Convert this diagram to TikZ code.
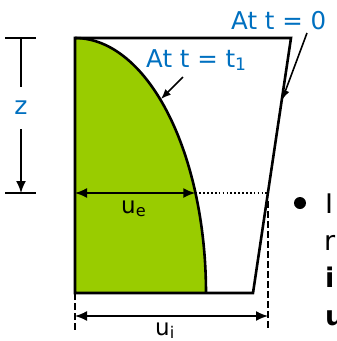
\documentclass[tikz,border=0pt]{standalone}
\usepackage{fontspec}
\setmainfont{DejaVu Sans}
\usetikzlibrary{arrows.meta}
\definecolor{lblue}{RGB}{0,112,192}
\definecolor{lgreen}{RGB}{153,204,0}
\begin{document}
\begin{tikzpicture}[x=1pt,y=-1pt,
  outline/.style={line width=2.6pt,line join=miter},
  dimline/.style={line width=1.7pt},
  bigtip/.style={-{Latex[length=12pt,width=10pt]}},
  twotip/.style={{Latex[length=12pt,width=10pt]}-{Latex[length=12pt,width=10pt]}},
  labtip/.style={line width=1.6pt,-{Latex[length=10pt,width=8pt]}},
  dashline/.style={line width=1.7pt,dash pattern=on 6.5pt off 3.5pt},
  dotline/.style={line width=1.7pt,dash pattern=on 1.7pt off 2.2pt},
  bluelab/.style={text=lblue,font=\fontsize{24.5}{24.5}\selectfont,inner sep=0pt,anchor=base west},
  blacklab/.style={text=black,font=\fontsize{23}{23}\selectfont,inner sep=0pt,anchor=base west},
  bullettext/.style={font=\fontsize{27}{27}\selectfont,inner sep=0pt,anchor=base west}]
\useasboundingbox (0,0) rectangle (337,341);
\clip (0,0) rectangle (337,341);
% corners
\coordinate (TL) at (75,38);
\coordinate (TR) at (291,38);
\coordinate (BR) at (253,293);
\coordinate (BL) at (75,293);
% green region
\fill[lgreen] (BL) -- plot[domain=90:0,samples=80] ({75+131*cos(\x)},{293-255*sin(\x)}) -- cycle;
\draw[outline] plot[domain=90:0,samples=80] ({75+131*cos(\x)},{293-255*sin(\x)});
\draw[outline] (TL) -- (TR) -- (BR) -- (BL) -- cycle;
% z dimension
\coordinate (zt) at (21,38);
\coordinate (zb) at (21,193);
\draw[dimline] (5,38) -- (36,38);
\draw[dimline] (5,193) -- (36,193);
\draw[dimline,bigtip] (zt) -- (zb);
\node[fill=white,text=lblue,font=\fontsize{25}{25}\selectfont,inner sep=2pt,minimum height=42pt] (z) at (21,108) {z};
% u_e
\coordinate (ueL) at (75,193);
\coordinate (ueR) at (195.3,193);
\coordinate (slant) at (267.9,193);
\draw[dimline,twotip] (ueL) -- (ueR);
\draw[dotline] (ueR) -- (slant);
\node[blacklab] (ue) at (121,213) {u\textsubscript{e}};
% dashed extension lines
\coordinate (dR1) at (268,201);
\coordinate (dR2) at (268,331);
\coordinate (dL2) at (75,331);
\draw[dashline] (dR1) -- (dR2);
\draw[dashline] (BL) -- (dL2);
% u_i
\coordinate (uiL) at (75,316);
\coordinate (uiR) at (268,316);
\draw[dimline,twotip] (uiL) -- (uiR);
\node[blacklab] (ui) at (155,335) {u\textsubscript{i}};
% labels
\node[bluelab] (l0) at (231,29) {At t = 0};
\node[bluelab] (l1) at (146,67) {At t = t\textsubscript{1}};
\coordinate (a1s) at (183,77);
\coordinate (a1e) at (161,99);
\coordinate (a0s) at (307,33);
\coordinate (a0e) at (282,100);
\draw[labtip] (a1s) -- (a1e);
\draw[labtip] (a0s) -- (a0e);
% bullet text (cropped)
\fill (300,203) circle (6);
\node[bullettext] (b1) at (325,213) {I};
\node[bullettext] (b2) at (324,250) {r};
\node[bullettext] (b3) at (325,287) {\textbf{i}};
\node[bullettext] (b4) at (325,325) {\textbf{u}};
\end{tikzpicture}
\end{document}
